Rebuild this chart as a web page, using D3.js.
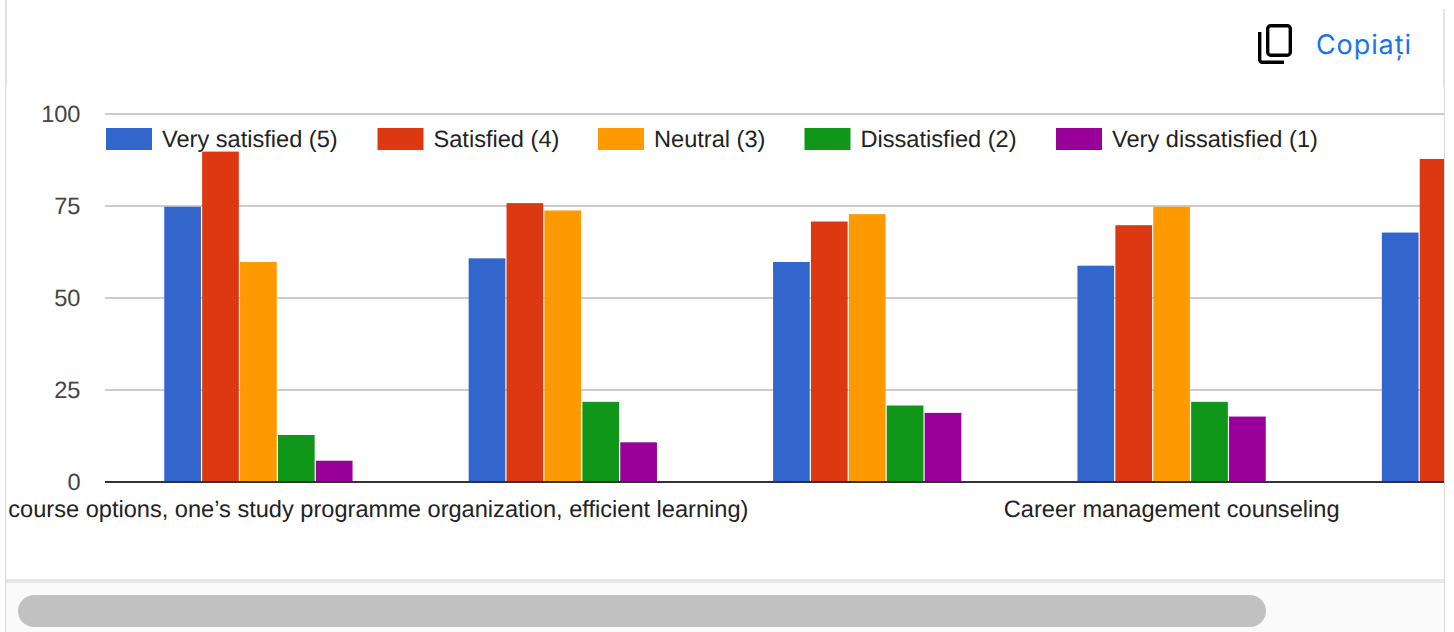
<!DOCTYPE html>
<html><head><meta charset="utf-8">
<script src="https://cdnjs.cloudflare.com/ajax/libs/d3/7.8.5/d3.min.js"></script>
<style>html,body{margin:0;padding:0;background:#fff;overflow:hidden}svg{display:block}text{text-rendering:geometricPrecision}</style>
</head><body><svg id="c" width="1454" height="632"></svg>
<script>
const categories = ["Group 1", "Group 2", "Group 3", "Group 4", "Group 5"];
const seriesNames = ["Very satisfied (5)", "Satisfied (4)", "Neutral (3)", "Dissatisfied (2)", "Very dissatisfied (1)"];
const seriesColors = ["#3366cc", "#dc3912", "#ff9900", "#109618", "#990099"];
const verySatisfied = [75, 61, 60, 59, 68];
const satisfied = [90, 76, 71, 70, 88];
const neutral = [60, 74, 73, 75, null];
const dissatisfied = [13, 22, 21, 22, null];
const veryDissatisfied = [6, 11, 19, 18, null];
const seriesValues = [verySatisfied, satisfied, neutral, dissatisfied, veryDissatisfied];
const yTicks = [0, 25, 50, 75, 100];
const firstLabelVisible = "course options, one\u2019s study programme organization, efficient learning)";
const fourthLabel = "Career management counseling";
const legendX = [106, 377.5, 598, 804.5, 1056];

const FONT = "'Liberation Sans', Arial, sans-serif";
const FS = 23.6;
const svg = d3.select("#c");
const plotL = 105, plotR = 1444, yTop = 114, yBase = 482;

const y = d3.scaleLinear().domain([0, 100]).range([yBase, yTop]);
const x0 = d3.scaleBand().domain(categories).range([106.25, 106.25 + 304.4 * 5]).paddingInner(0).paddingOuter(0);
const x1 = d3.scaleBand().domain(seriesNames).range([58, 247.5]);

// frame
svg.append("rect").attr("x",0).attr("y",0).attr("width",1454).attr("height",632).attr("fill","#fff");
svg.append("line").attr("x1",5.5).attr("x2",5.5).attr("y1",87).attr("y2",632).attr("stroke","#dadada");
svg.append("line").attr("x1",1444.5).attr("x2",1444.5).attr("y1",87).attr("y2",632).attr("stroke","#dadada");
svg.append("rect").attr("x",5).attr("y",0).attr("width",2).attr("height",87).attr("fill","#e2e2e8");
svg.append("rect").attr("x",1443).attr("y",9).attr("width",2).attr("height",78).attr("fill","#e2e2e8");

// copy button
const icon = svg.append("g").attr("fill","none").attr("stroke","#000").attr("stroke-width",3.4);
icon.append("rect").attr("x",1267.7).attr("y",25.7).attr("width",22.6).attr("height",29.6).attr("rx",3);
icon.append("path").attr("d","M1259.7 32V59.8A2.5 2.5 0 0 0 1262.2 62.3H1284");
svg.append("text").attr("x",1316).attr("y",54).attr("font-family","Inter, sans-serif").attr("font-size",27).attr("letter-spacing",0.9).attr("fill","#1a73e8").text("Copia\u021bi");

// clip
const defs = svg.append("defs");
defs.append("clipPath").attr("id","plot").append("rect").attr("x",plotL).attr("y",yTop-2).attr("width",plotR-plotL).attr("height",yBase-yTop+6);
defs.append("clipPath").attr("id","lab").append("rect").attr("x",7).attr("y",490).attr("width",1437).attr("height",40);

// gridlines + y axis
const yAxis = d3.axisLeft(y).tickValues(yTicks).tickSize(plotL - plotR).tickPadding(25).offset(0);
const gy = svg.append("g").attr("transform",`translate(${plotL},0)`).call(yAxis);
gy.select(".domain").remove();
gy.selectAll(".tick line").attr("stroke","#cccccc").attr("stroke-width",2);
gy.selectAll(".tick text").attr("font-family",FONT).attr("font-size",FS).attr("fill","#444").attr("x",-24.5).attr("dy","0.35em");

// bars
const barInset = 0.8;
const plot = svg.append("g").attr("clip-path","url(#plot)");
seriesValues.forEach((vals,s)=>{
  plot.append("g").selectAll("rect").data(vals.map((v,i)=>({v,cat:categories[i]})).filter(d=>d.v!==null)).join("rect")
    .attr("x",d=>x0(d.cat)+x1(seriesNames[s]))
    .attr("width",x1.bandwidth()-1.2)
    .attr("y",d=>y(d.v)+barInset)
    .attr("height",d=>yBase-y(d.v)-barInset)
    .attr("fill",seriesColors[s]);
});
// baseline
svg.append("line").attr("x1",plotL).attr("x2",plotR).attr("y1",y(0)).attr("y2",y(0)).attr("stroke","#333").attr("stroke-width",2);

// x labels
const labs = svg.append("g").attr("clip-path","url(#lab)").attr("font-family",FONT).attr("font-size",FS).attr("fill","#222");
labs.append("text").attr("x",x0(categories[0])+x0.bandwidth()/2+490).attr("y",517).attr("text-anchor","end").text(firstLabelVisible);
labs.append("text").attr("x",x0(categories[3])+x0.bandwidth()/2).attr("y",517).attr("text-anchor","middle").text(fourthLabel);

// legend
const leg = svg.append("g");
seriesNames.forEach((n,i)=>{
  leg.append("rect").attr("x",legendX[i]).attr("y",128).attr("width",46).attr("height",22).attr("fill",seriesColors[i]);
  leg.append("text").attr("x",legendX[i]+56).attr("y",147).attr("font-family",FONT).attr("font-size",FS).attr("fill","#222").text(n);
});

// scrollbar
svg.append("rect").attr("x",6).attr("y",579).attr("width",1438).attr("height",4).attr("fill","#e6e6e6");
svg.append("rect").attr("x",6).attr("y",583).attr("width",1438).attr("height",49).attr("fill","#fafafa");
svg.append("rect").attr("x",18).attr("y",595).attr("width",1248).attr("height",32).attr("rx",16).attr("fill","#c1c1c1");
</script></body></html>
